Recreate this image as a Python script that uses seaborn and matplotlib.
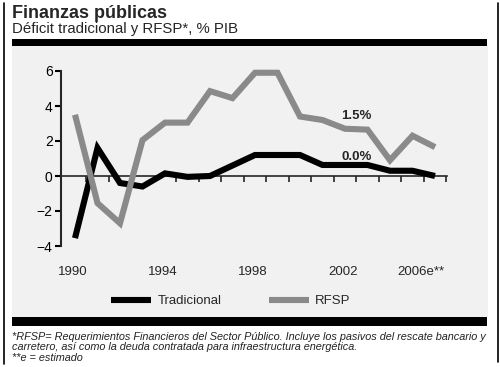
import matplotlib
matplotlib.use("Agg")
import matplotlib.pyplot as plt
import seaborn as sns
import pandas as pd
from matplotlib.patches import Rectangle
from matplotlib.lines import Line2D

# ---- data ----
years = list(range(1990, 2007))
tradicional = [-3.55, 1.6, -0.4, -0.6, 0.15, -0.05, 0.0, 0.6, 1.2, 1.2, 1.2,
               0.63, 0.63, 0.63, 0.3, 0.3, 0.0]
rfsp = [3.5, -1.55, -2.7, 2.05, 3.05, 3.05, 4.85, 4.45, 5.9, 5.9, 3.4,
        3.2, 2.7, 2.65, 0.9, 2.3, 1.65]
series_names = ["Tradicional", "RFSP"]
tick_years = [1990, 1994, 1998, 2002, 2006]
tick_labels = ["1990", "1994", "1998", "2002", "2006e**"]
y_ticks = [-4, -2, 0, 2, 4, 6]
annot_labels = ["0.0%", "1.5%"]

df = pd.DataFrame({
    "year": years * 2,
    "value": tradicional + rfsp,
    "serie": [series_names[0]] * len(years) + [series_names[1]] * len(years),
})

sns.set_style("ticks")
plt.rcParams["font.family"] = ["Liberation Sans", "DejaVu Sans"]

W, H = 500, 367
fig = plt.figure(figsize=(5, 3.67), dpi=100)
fig.patch.set_facecolor("white")

def fx(px):
    return px / W

def fy(py):
    return 1 - py / H

# panel background and bars
fig.add_artist(Rectangle((fx(12), fy(317)), fx(476), 272 / H, transform=fig.transFigure,
                         facecolor="#f1f1f1", edgecolor="none", zorder=0))
fig.add_artist(Rectangle((fx(12), fy(45.5)), fx(475), 6.5 / H, transform=fig.transFigure,
                         facecolor="black", edgecolor="none", zorder=1))
fig.add_artist(Rectangle((fx(12), fy(326)), fx(475), 9 / H, transform=fig.transFigure,
                         facecolor="black", edgecolor="none", zorder=1))
fig.add_artist(Line2D([fx(3.5), fx(3.5)], [fy(3), fy(364)], transform=fig.transFigure,
                      color="black", lw=1.2))
fig.add_artist(Line2D([fx(497.5), fx(497.5)], [fy(3), fy(362)], transform=fig.transFigure,
                      color="black", lw=1.2))

# axes
x0_px, y6_px, yn4_px = 61, 71, 246
px_per_year = 22.5
x1990_px = 75
xl = 1990 - (x1990_px - x0_px) / px_per_year
xr = 2006.55
right_px = x1990_px + (xr - 1990) * px_per_year
ax = fig.add_axes([fx(x0_px), fy(yn4_px), (right_px - x0_px) / W, (yn4_px - y6_px) / H])
ax.patch.set_visible(False)

palette = {"Tradicional": "black", "RFSP": "#8a8a8a"}
sns.lineplot(data=df, x="year", y="value", hue="serie", palette=palette,
             ax=ax, linewidth=4.4, clip_on=False, legend=True)
for ln in ax.get_lines():
    ln.set_solid_joinstyle("miter")
    ln.set_solid_capstyle("butt")

ax.set_xlim(xl, xr)
ax.set_ylim(-4, 6)
ax.set_xlabel("")
ax.set_ylabel("")

for s in ["top", "right"]:
    ax.spines[s].set_visible(False)
ax.spines["left"].set_linewidth(1.5)
ax.spines["left"].set_bounds(-4, 6)
ax.spines["bottom"].set_position(("data", 0))
ax.spines["bottom"].set_linewidth(1.2)
ax.spines["bottom"].set_zorder(1)

ax.set_yticks(y_ticks)
ax.tick_params(axis="y", length=4, width=1.5, labelsize=10, pad=2, colors="black")

label_pos = [y - 0.1 for y in tick_years[:-1]] + [tick_years[-1] - 0.65]
ax.set_xticks(label_pos)
ax.set_xticklabels(tick_labels)
ax.set_xticks([y + 0.5 for y in years], minor=True)
ax.tick_params(axis="x", which="major", length=0, labelsize=9.5, pad=65)
ax.tick_params(axis="x", which="minor", length=4, width=1.2, direction="out")

# annotations
ax.text(2002.5, 1.09, annot_labels[0], ha="center", va="center",
        fontsize=9.5, fontweight="bold")
ax.text(2002.5, 3.43, annot_labels[1], ha="center", va="center",
        fontsize=9.5, fontweight="bold")

# legend
handles, labels = ax.get_legend_handles_labels()
for h in handles:
    h.set_linewidth(4.4)
ax.legend(handles, labels, loc="center", bbox_to_anchor=(fx(231), fy(301)),
          bbox_transform=fig.transFigure, ncol=2, frameon=False, fontsize=9.5,
          handlelength=3.0, columnspacing=3.6, handletextpad=0.5)

# titles
fig.text(fx(12), fy(18), "Finanzas públicas", fontsize=13, fontweight="bold",
         va="baseline", ha="left")
fig.text(fx(12), fy(33), "Déficit tradicional y RFSP*, % PIB", fontsize=10.8,
         va="baseline", ha="left")

# footnotes
foot = [
    "*RFSP= Requerimientos Financieros del Sector Público. Incluye los pasivos del rescate bancario y",
    "carretero, así como la deuda contratada para infraestructura energética.",
    "**e = estimado",
]
for i, t in enumerate(foot):
    fig.text(fx(12), fy(340 + i * 10.5), t, fontsize=7.8, style="italic",
             color="#222222", va="baseline", ha="left")

fig.savefig("out.png", dpi=100, facecolor="white")
